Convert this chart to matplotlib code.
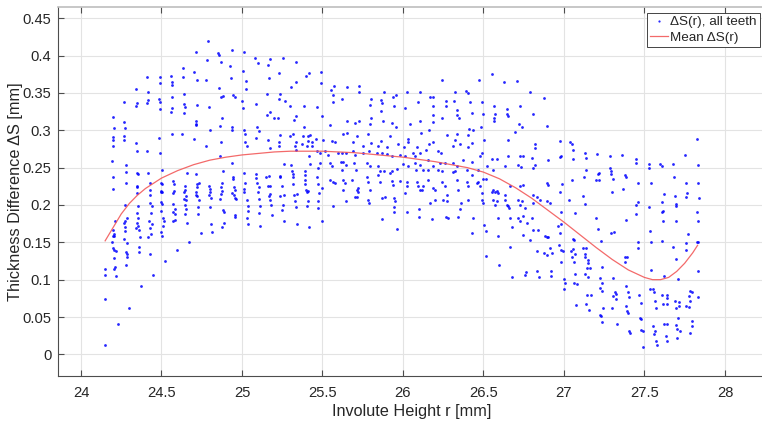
import numpy as np
import matplotlib
matplotlib.use("Agg")
import matplotlib.pyplot as plt

plt.rcParams['font.family'] = ['Liberation Sans', 'DejaVu Sans']

# ---- thickness difference samples (r [mm], dS [mm]) ----
pts_root = [
    (24.149, 0.114), (24.149, 0.106), (24.146, 0.074), (24.149, 0.0125),
]

pts_24a = [
    (24.413, 0.372), (24.49, 0.371), (24.49, 0.364), (24.342, 0.355), (24.419, 0.351),
    (24.268, 0.338), (24.346, 0.336), (24.34, 0.332), (24.408, 0.336), (24.417, 0.34),
    (24.485, 0.342), (24.49, 0.338), (24.488, 0.329), (24.197, 0.318), (24.203, 0.303),
    (24.27, 0.311), (24.272, 0.303), (24.344, 0.283), (24.346, 0.272), (24.197, 0.291),
    (24.201, 0.287), (24.201, 0.279), (24.268, 0.293), (24.268, 0.287), (24.195, 0.259),
    (24.282, 0.254), (24.413, 0.272), (24.486, 0.29), (24.488, 0.269),
    (24.2, 0.237), (24.2, 0.221), (24.278, 0.244), (24.35, 0.243), (24.357, 0.242),
    (24.35, 0.226), (24.35, 0.224), (24.417, 0.243), (24.427, 0.23), (24.43, 0.22),
    (24.277, 0.229), (24.346, 0.216), (24.43, 0.213), (24.5, 0.219), (24.494, 0.217),
    (24.274, 0.2), (24.357, 0.198), (24.347, 0.189), (24.353, 0.182), (24.274, 0.178),
    (24.27, 0.176), (24.212, 0.178), (24.286, 0.183), (24.347, 0.176), (24.34, 0.169),
    (24.353, 0.172), (24.363, 0.166), (24.274, 0.17), (24.276, 0.165), (24.197, 0.166),
    (24.207, 0.161), (24.2, 0.159), (24.207, 0.158), (24.193, 0.151), (24.197, 0.142),
    (24.207, 0.14), (24.218, 0.139), (24.203, 0.129), (24.209, 0.117), (24.207, 0.114),
    (24.218, 0.105), (24.228, 0.041), (24.27, 0.154), (24.288, 0.149), (24.282, 0.137),
    (24.288, 0.134), (24.286, 0.13), (24.282, 0.119), (24.301, 0.062), (24.369, 0.157),
    (24.363, 0.144), (24.359, 0.137), (24.375, 0.091), (24.434, 0.189), (24.423, 0.178),
    (24.427, 0.169), (24.434, 0.161), (24.442, 0.174), (24.419, 0.157), (24.427, 0.134),
    (24.448, 0.106), (24.438, 0.199), (24.429, 0.202), (24.495, 0.204), (24.494, 0.192),
]

pts_24b = [
    (24.56, 0.373), (24.564, 0.365), (24.566, 0.36), (24.633, 0.371), (24.701, 0.378),
    (24.718, 0.367), (24.778, 0.367), (24.633, 0.384), (24.712, 0.405), (24.788, 0.419),
    (24.849, 0.403), (24.859, 0.401), (24.936, 0.407), (24.78, 0.394), (24.867, 0.392),
    (24.925, 0.386), (24.93, 0.37), (24.639, 0.349), (24.64, 0.335), (24.645, 0.331),
    (24.639, 0.323), (24.564, 0.345), (24.566, 0.33), (24.562, 0.325), (24.718, 0.334),
    (24.793, 0.331), (24.857, 0.357), (24.869, 0.345), (24.88, 0.346), (24.946, 0.347),
    (24.956, 0.345), (24.566, 0.295), (24.628, 0.295), (24.712, 0.313), (24.714, 0.309),
    (24.714, 0.307), (24.704, 0.288), (24.778, 0.279), (24.801, 0.301), (24.863, 0.306),
    (24.878, 0.316), (24.938, 0.305), (24.94, 0.301), (24.867, 0.285),
    (24.5, 0.23), (24.502, 0.228), (24.502, 0.217), (24.506, 0.247), (24.573, 0.232),
    (24.579, 0.219), (24.573, 0.216), (24.645, 0.225), (24.643, 0.22), (24.639, 0.218),
    (24.641, 0.208), (24.658, 0.243), (24.714, 0.241), (24.722, 0.228), (24.718, 0.224),
    (24.716, 0.213), (24.73, 0.229), (24.797, 0.226), (24.803, 0.222), (24.795, 0.214),
    (24.863, 0.266), (24.874, 0.229), (24.872, 0.224), (24.876, 0.219), (24.865, 0.208),
    (24.884, 0.245), (24.942, 0.238), (24.944, 0.235), (24.948, 0.224), (24.938, 0.216),
    (24.936, 0.256), (24.575, 0.228), (24.65, 0.212), (24.715, 0.218), (24.8, 0.218),
    (24.805, 0.21), (24.87, 0.215), (24.95, 0.213), (24.955, 0.22),
    (24.502, 0.201), (24.508, 0.183), (24.515, 0.179), (24.494, 0.164), (24.502, 0.158),
    (24.508, 0.172), (24.52, 0.125), (24.57, 0.201), (24.581, 0.195), (24.573, 0.19),
    (24.585, 0.188), (24.57, 0.179), (24.581, 0.18), (24.595, 0.14), (24.647, 0.2),
    (24.653, 0.195), (24.649, 0.188), (24.653, 0.207), (24.66, 0.176), (24.67, 0.15),
    (24.722, 0.212), (24.73, 0.207), (24.726, 0.197), (24.728, 0.188), (24.745, 0.163),
    (24.801, 0.197), (24.809, 0.175), (24.815, 0.164), (24.882, 0.193), (24.888, 0.191),
    (24.886, 0.176), (24.878, 0.171), (24.958, 0.209), (24.96, 0.208), (24.958, 0.187),
    (24.958, 0.184),
]

pts_25a = [
    (25.012, 0.405), (25.08, 0.397), (25.10, 0.39), (25.176, 0.396), (25.257, 0.397),
    (25.336, 0.391), (25.004, 0.379), (25.027, 0.366), (25.16, 0.387), (25.166, 0.37),
    (25.232, 0.377), (25.338, 0.365), (25.398, 0.373), (25.415, 0.377), (25.027, 0.355),
    (25.0, 0.339), (25.006, 0.33), (25.085, 0.335), (25.156, 0.348), (25.234, 0.349),
    (25.232, 0.342), (25.27, 0.339), (25.307, 0.358), (25.3, 0.332), (25.384, 0.333),
    (25.465, 0.331), (25.012, 0.301), (25.017, 0.295), (25.021, 0.285), (25.031, 0.279),
    (25.094, 0.304), (25.106, 0.299), (25.085, 0.29), (25.16, 0.287), (25.172, 0.276),
    (25.153, 0.321), (25.176, 0.325), (25.2, 0.316), (25.222, 0.316), (25.3, 0.293),
    (25.317, 0.295), (25.336, 0.319), (25.322, 0.314), (25.382, 0.292), (25.407, 0.293),
    (25.421, 0.294), (25.413, 0.286), (25.438, 0.285), (25.237, 0.294), (25.232, 0.284),
    (25.228, 0.279), (25.402, 0.279), (25.434, 0.279), (25.459, 0.289), (25.463, 0.272),
    (25.336, 0.285), (25.332, 0.279), (25.338, 0.273), (25.305, 0.253), (25.425, 0.255),
    (25.419, 0.266), (25.375, 0.282), (25.386, 0.304), (25.259, 0.255),
    (25.012, 0.243), (25.017, 0.23), (25.015, 0.222), (25.012, 0.217), (25.087, 0.241),
    (25.089, 0.236), (25.095, 0.229), (25.108, 0.224), (25.098, 0.217), (25.17, 0.239),
    (25.16, 0.226), (25.174, 0.226), (25.17, 0.212), (25.174, 0.215), (25.236, 0.239),
    (25.238, 0.237), (25.249, 0.225), (25.236, 0.212), (25.311, 0.246), (25.317, 0.242),
    (25.317, 0.238), (25.319, 0.228), (25.324, 0.214), (25.394, 0.246), (25.392, 0.24),
    (25.394, 0.233), (25.392, 0.228), (25.396, 0.22), (25.402, 0.217), (25.473, 0.249),
    (25.467, 0.238), (25.471, 0.228), (25.477, 0.216), (25.147, 0.238),
    (25.033, 0.206), (25.039, 0.199), (25.031, 0.182), (25.037, 0.175), (25.11, 0.199),
    (25.104, 0.189), (25.11, 0.172), (25.176, 0.207), (25.184, 0.187), (25.263, 0.178),
    (25.259, 0.214), (25.34, 0.215), (25.34, 0.175), (25.419, 0.171), (25.411, 0.219),
    (25.04, 0.192), (25.105, 0.208), (25.18, 0.2), (25.255, 0.2),
    (25.25, 0.193), (25.33, 0.205), (25.335, 0.197), (25.41, 0.205), (25.405, 0.198),
    (25.47, 0.205), (25.475, 0.196),
]

# upper scatter, 25.5 .. 27 mm
pts_upper = [
    (25.49, 0.378), (25.492, 0.363), (25.494, 0.319), (25.55, 0.354), (25.566, 0.347),
    (25.571, 0.359), (25.566, 0.338), (25.624, 0.342), (25.654, 0.358), (25.724, 0.359),
    (25.726, 0.351), (25.801, 0.342), (25.797, 0.334), (25.799, 0.317), (25.861, 0.34),
    (25.869, 0.336), (25.865, 0.326), (25.94, 0.344), (25.958, 0.347), (25.944, 0.332),
    (25.884, 0.351),
    (26.027, 0.351), (26.106, 0.351), (26.091, 0.338), (26.015, 0.33), (26.166, 0.345),
    (26.185, 0.344), (26.187, 0.332), (26.189, 0.321), (26.241, 0.367), (26.243, 0.316),
    (26.266, 0.339), (26.27, 0.333), (26.326, 0.351), (26.392, 0.353), (26.402, 0.35),
    (26.315, 0.339), (26.334, 0.327), (26.336, 0.321), (26.351, 0.316), (26.419, 0.338),
    (26.427, 0.323), (26.473, 0.368), (26.49, 0.338), (26.496, 0.322),
    (26.552, 0.375), (26.566, 0.333), (26.573, 0.322), (26.566, 0.316), (26.629, 0.365),
    (26.645, 0.328), (26.649, 0.322), (26.654, 0.319), (26.707, 0.366), (26.728, 0.332),
    (26.79, 0.351), (26.807, 0.322), (26.873, 0.343),
    (26.678, 0.104), (26.764, 0.11), (26.759, 0.106), (26.834, 0.112), (26.842, 0.104),
    (26.919, 0.111), (26.919, 0.105),
]

# main band, 25.5 .. 27 mm
pts_mid = [
    (25.547, 0.307), (25.651, 0.312), (25.702, 0.310), (25.729, 0.312), (25.795, 0.309),
    (25.874, 0.313), (25.93, 0.310), (25.957, 0.304), (26.044, 0.309), (26.106, 0.312),
    (26.189, 0.311), (26.485, 0.305), (26.568, 0.312), (26.723, 0.309), (26.737, 0.304),
    (26.893, 0.306), (25.626, 0.295), (25.651, 0.296), (25.717, 0.292), (25.781, 0.295),
    (25.862, 0.286), (25.92, 0.293), (26.034, 0.289), (26.11, 0.297), (26.162, 0.3),
    (26.189, 0.284), (26.272, 0.294), (26.334, 0.295), (26.402, 0.294), (26.412, 0.302),
    (26.437, 0.301), (26.506, 0.287), (26.655, 0.287), (26.696, 0.298), (26.82, 0.281),
    (25.506, 0.287), (25.559, 0.286), (25.578, 0.284), (25.692, 0.284), (25.754, 0.279),
    (25.802, 0.283), (25.847, 0.279), (25.899, 0.277), (25.971, 0.281), (26.034, 0.284),
    (26.007, 0.278), (26.085, 0.278), (26.143, 0.274), (26.164, 0.282), (26.22, 0.272),
    (26.236, 0.269), (26.313, 0.279), (26.323, 0.287), (26.354, 0.281), (26.406, 0.278),
    (26.427, 0.283), (26.489, 0.269), (26.727, 0.266), (26.748, 0.266), (26.799, 0.263),
    (26.82, 0.276), (26.903, 0.26), (26.975, 0.264),
    (25.485, 0.269), (25.516, 0.272), (25.537, 0.267), (25.599, 0.27), (25.62, 0.269),
    (25.646, 0.269), (25.692, 0.272), (25.702, 0.267), (25.754, 0.269), (25.791, 0.272),
    (25.837, 0.269), (25.868, 0.269), (25.899, 0.268), (25.93, 0.266), (25.982, 0.267),
    (26.013, 0.265), (26.065, 0.269), (26.075, 0.266), (26.106, 0.269), (26.158, 0.26),
    (26.23, 0.256), (26.261, 0.256), (26.309, 0.256), (26.334, 0.252), (26.375, 0.26),
    (26.427, 0.258), (26.479, 0.266), (26.551, 0.261), (26.582, 0.261), (26.655, 0.265),
    (25.485, 0.256), (25.547, 0.256), (25.557, 0.252), (25.613, 0.258), (25.63, 0.258),
    (25.622, 0.247), (25.646, 0.254), (25.698, 0.256), (25.709, 0.247), (25.775, 0.256),
    (25.795, 0.252), (25.847, 0.252), (25.858, 0.245), (25.882, 0.245), (25.92, 0.243),
    (25.93, 0.245), (25.965, 0.248), (26.003, 0.255), (26.034, 0.252), (26.075, 0.256),
    (26.106, 0.254), (26.081, 0.247), (26.123, 0.247), (26.158, 0.247), (26.189, 0.252),
    (26.22, 0.247), (26.24, 0.245), (26.313, 0.244), (26.323, 0.245), (26.396, 0.247),
    (26.427, 0.24), (26.468, 0.247), (26.52, 0.252), (26.561, 0.247), (26.634, 0.252),
    (26.717, 0.254), (26.733, 0.251), (26.82, 0.254), (26.81, 0.249),
    (25.495, 0.223), (25.547, 0.234), (25.568, 0.231), (25.578, 0.229), (25.63, 0.234),
    (25.64, 0.23), (25.626, 0.22), (25.682, 0.234), (25.713, 0.22), (25.723, 0.223),
    (25.702, 0.211), (25.723, 0.218), (25.775, 0.237), (25.785, 0.231), (25.795, 0.22),
    (25.847, 0.24), (25.858, 0.231), (25.93, 0.232), (25.94, 0.227), (25.982, 0.232),
    (26.023, 0.225), (26.013, 0.216), (26.023, 0.231), (26.085, 0.231), (26.096, 0.226),
    (26.106, 0.22), (26.116, 0.22), (26.127, 0.225), (26.158, 0.234), (26.189, 0.223),
    (26.199, 0.22), (26.24, 0.231), (26.261, 0.225), (26.272, 0.214), (26.334, 0.234),
    (26.344, 0.22), (26.396, 0.231), (26.406, 0.225), (26.458, 0.229), (26.468, 0.231),
    (26.479, 0.225), (26.489, 0.216), (26.499, 0.235), (26.514, 0.235), (26.551, 0.218),
    (26.561, 0.22), (26.572, 0.218), (26.582, 0.219), (26.592, 0.216), (26.634, 0.214),
    (26.665, 0.225), (26.727, 0.225), (26.748, 0.227), (26.81, 0.214), (26.831, 0.211),
    (26.893, 0.229), (26.903, 0.227), (26.975, 0.218),
    (25.568, 0.199), (25.646, 0.205), (25.713, 0.211), (25.785, 0.207), (25.791, 0.203),
    (25.868, 0.209), (25.889, 0.211), (25.945, 0.209), (25.951, 0.205), (25.945, 0.197),
    (26.023, 0.191), (26.102, 0.194), (26.168, 0.202), (26.199, 0.207), (26.251, 0.207),
    (26.276, 0.205), (26.354, 0.194), (26.36, 0.202), (26.406, 0.207), (26.489, 0.207),
    (26.499, 0.202), (26.561, 0.207), (26.572, 0.2), (26.582, 0.205), (26.634, 0.207),
    (26.644, 0.2), (26.655, 0.198), (26.661, 0.196), (26.717, 0.207), (26.727, 0.2),
    (26.737, 0.205), (26.758, 0.196), (26.81, 0.202), (26.851, 0.207), (26.893, 0.205),
    (26.913, 0.202),
    (25.495, 0.179), (25.868, 0.181), (25.945, 0.19), (25.965, 0.168), (26.102, 0.184),
    (26.183, 0.181), (26.267, 0.184), (26.28, 0.183), (26.344, 0.184), (26.433, 0.182),
    (26.427, 0.163), (26.503, 0.173), (26.514, 0.165), (26.592, 0.182), (26.665, 0.182),
    (26.675, 0.171), (26.717, 0.182), (26.727, 0.178), (26.748, 0.185), (26.768, 0.176),
    (26.799, 0.182), (26.81, 0.167), (26.841, 0.167), (26.882, 0.158), (26.893, 0.157),
    (26.903, 0.157), (26.965, 0.172),
    (26.592, 0.158), (26.665, 0.144), (26.748, 0.16), (26.789, 0.153), (26.831, 0.138),
    (26.913, 0.142), (26.876, 0.136), (26.924, 0.136), (26.893, 0.133), (26.516, 0.132),
    (26.597, 0.12), (26.971, 0.147),
]

pts_27a = [
    (26.977, 0.286), (26.979, 0.266),
    (26.985, 0.228), (27.035, 0.284), (27.048, 0.282), (27.056, 0.273), (27.056, 0.262),
    (27.05, 0.234), (27.129, 0.269), (27.139, 0.263), (27.123, 0.238), (27.139, 0.247),
    (27.212, 0.242), (27.218, 0.243), (27.201, 0.233), (27.218, 0.233), (27.205, 0.268),
    (27.118, 0.212), (27.284, 0.265), (27.284, 0.25), (27.29, 0.246), (27.295, 0.242),
    (27.305, 0.235), (27.301, 0.217), (27.363, 0.267), (27.369, 0.222), (27.38, 0.24),
    (27.384, 0.238), (27.448, 0.261), (27.45, 0.256), (27.463, 0.229), (27.529, 0.255),
    (27.531, 0.25), (27.595, 0.255), (27.612, 0.252), (27.539, 0.229), (27.676, 0.255),
    (27.684, 0.237), (27.62, 0.215), (27.691, 0.212), (27.751, 0.267), (27.761, 0.229),
    (27.765, 0.216), (27.757, 0.211), (27.824, 0.288), (27.83, 0.254), (27.834, 0.229),
    (27.836, 0.209),
]

pts_27b = [
    (26.979, 0.19), (26.983, 0.175), (26.977, 0.162),
    (26.979, 0.14), (26.994, 0.139), (26.979, 0.124), (26.998, 0.101),
    (27.008, 0.096), (26.998, 0.088), (27.031, 0.207), (27.066, 0.189), (27.056, 0.155),
    (27.062, 0.153), (27.046, 0.139), (27.056, 0.141), (27.052, 0.13), (27.068, 0.135),
    (27.062, 0.123), (27.068, 0.107), (27.062, 0.095), (27.081, 0.094), (27.077, 0.066),
    (27.133, 0.201), (27.118, 0.142), (27.139, 0.143), (27.129, 0.134), (27.131, 0.13),
    (27.149, 0.126), (27.151, 0.122), (27.16, 0.116), (27.145, 0.115), (27.131, 0.107),
    (27.149, 0.104), (27.155, 0.06), (27.143, 0.08), (27.17, 0.08), (27.139, 0.068),
    (27.201, 0.182), (27.212, 0.168), (27.232, 0.152), (27.237, 0.117), (27.224, 0.102),
    (27.237, 0.096), (27.224, 0.089), (27.237, 0.085), (27.243, 0.062), (27.222, 0.053),
    (27.228, 0.051), (27.239, 0.043), (27.29, 0.162), (27.313, 0.164), (27.305, 0.102),
    (27.315, 0.083), (27.326, 0.081), (27.326, 0.074), (27.305, 0.078), (27.301, 0.062),
    (27.332, 0.04), (27.378, 0.13), (27.394, 0.13), (27.378, 0.124), (27.384, 0.092),
    (27.398, 0.083), (27.405, 0.077), (27.388, 0.065), (27.392, 0.058), (27.398, 0.055),
    (27.405, 0.031), (27.413, 0.028), (27.384, 0.18), (27.45, 0.2), (27.463, 0.204),
    (27.45, 0.188), (27.463, 0.15), (27.461, 0.143), (27.467, 0.079), (27.481, 0.069),
    (27.475, 0.049), (27.481, 0.047), (27.481, 0.033), (27.488, 0.031), (27.492, 0.01),
    (27.527, 0.197), (27.533, 0.165), (27.543, 0.15), (27.539, 0.113), (27.533, 0.087),
    (27.554, 0.087), (27.56, 0.083), (27.564, 0.071), (27.571, 0.062), (27.554, 0.038),
    (27.564, 0.031), (27.56, 0.027), (27.571, 0.018), (27.575, 0.012), (27.608, 0.204),
    (27.616, 0.192), (27.612, 0.19), (27.618, 0.178), (27.606, 0.152), (27.62, 0.105),
    (27.612, 0.08), (27.637, 0.08), (27.643, 0.076), (27.616, 0.068), (27.643, 0.067),
    (27.622, 0.04), (27.637, 0.041), (27.633, 0.025), (27.637, 0.018), (27.693, 0.201),
    (27.699, 0.199), (27.695, 0.178), (27.678, 0.144), (27.699, 0.127), (27.71, 0.101),
    (27.689, 0.071), (27.716, 0.07), (27.714, 0.065), (27.699, 0.062), (27.71, 0.048),
    (27.699, 0.039), (27.705, 0.034), (27.72, 0.031), (27.701, 0.022), (27.824, 0.19),
    (27.834, 0.179), (27.772, 0.161), (27.755, 0.149), (27.761, 0.14), (27.824, 0.15),
    (27.834, 0.15), (27.834, 0.112), (27.782, 0.085), (27.793, 0.083), (27.778, 0.078),
    (27.782, 0.071), (27.834, 0.077), (27.761, 0.065), (27.778, 0.064), (27.793, 0.045),
    (27.797, 0.038), (27.782, 0.029),
]

# mean thickness difference over all teeth
mean_r = [24.15, 24.20, 24.25, 24.30, 24.35, 24.40, 24.50, 24.60, 24.70, 24.80,
          24.90, 25.00, 25.10, 25.20, 25.30, 25.40, 25.50, 25.60, 25.70, 25.80,
          25.90, 26.00, 26.10, 26.20, 26.30, 26.40, 26.50, 26.60, 26.70, 26.80,
          26.90, 27.00, 27.10, 27.20, 27.30, 27.40, 27.50, 27.55, 27.60, 27.65,
          27.70, 27.75, 27.80, 27.83]
mean_ds = [0.152, 0.170, 0.188, 0.202, 0.213, 0.222, 0.236, 0.246, 0.254, 0.260,
           0.264, 0.267, 0.269, 0.271, 0.272, 0.272, 0.272, 0.271, 0.270, 0.268,
           0.266, 0.264, 0.261, 0.258, 0.254, 0.250, 0.244, 0.235, 0.223, 0.209,
           0.193, 0.177, 0.160, 0.143, 0.127, 0.113, 0.103, 0.100, 0.100, 0.103,
           0.111, 0.122, 0.136, 0.146]

x_ticks = [24, 24.5, 25, 25.5, 26, 26.5, 27, 27.5, 28]
y_ticks = [0, 0.05, 0.1, 0.15, 0.2, 0.25, 0.3, 0.35, 0.4, 0.45]

# ---- assemble ----
pairs = (pts_root + pts_24a + pts_24b + pts_25a + pts_upper + pts_mid
         + pts_27a + pts_27b)
r_all = np.array([p[0] for p in pairs])
ds_all = np.array([p[1] for p in pairs])

W, H = 762, 425
fig = plt.figure(figsize=(W / 100, H / 100), dpi=100)
ax = fig.add_axes([58.3 / W, (H - 376) / H, (766 - 58.3) / W, (376 - 6.7) / H])

txt = '#262626'
ax.plot(r_all, ds_all, linestyle='none', marker='o', markersize=2.0,
        markeredgewidth=0, color=(0.0, 0.0, 1.0), alpha=0.85,
        label='ΔS(r), all teeth')
ax.plot(mean_r, mean_ds, color='#f25a5a', linewidth=0.9, alpha=0.9,
        label='Mean ΔS(r)')

ax.set_xlim(23.859, 28.255)
ax.set_ylim(-0.029, 0.4655)
ax.set_xticks(x_ticks)
ax.set_xticklabels([f'{t:g}' for t in x_ticks])
ax.set_yticks(y_ticks)
ax.set_yticklabels([f'{t:g}' for t in y_ticks])

ax.grid(True, color='#e3e3e3', linewidth=0.8)
ax.set_axisbelow(True)
ax.tick_params(direction='in', length=4, width=0.8, colors='#4d4d4d',
               labelcolor=txt, labelsize=10.6, top=True, right=False)
ax.tick_params(axis='x', pad=7)
ax.tick_params(axis='y', pad=5)
for side in ('left', 'bottom'):
    ax.spines[side].set_color('#4d4d4d')
    ax.spines[side].set_linewidth(0.8)
ax.spines['top'].set_color('#bdbdbd')
ax.spines['top'].set_linewidth(1.2)
ax.spines['right'].set_visible(False)

ax.set_xlabel('Involute Height r [mm]', fontsize=11.7, color=txt, labelpad=3)
ax.set_ylabel('Thickness Difference ΔS [mm]', fontsize=11.7, color=txt,
              va='center')
ax.yaxis.set_label_coords((15.5 - 58.3) / (766 - 58.3), 0.5)

leg = ax.legend(loc='upper right', bbox_to_anchor=(760 / W, 1 - 12.7 / H),
                bbox_transform=fig.transFigure, borderaxespad=0,
                fontsize=9.7, frameon=True, fancybox=False, framealpha=1,
                edgecolor='#262626', handlelength=1.35, handletextpad=0.15,
                labelspacing=0.2, borderpad=0.25, markerscale=0.8)
leg.get_frame().set_linewidth(0.6)
for t in leg.get_texts():
    t.set_color(txt)

fig.savefig('out.png', dpi=100)
